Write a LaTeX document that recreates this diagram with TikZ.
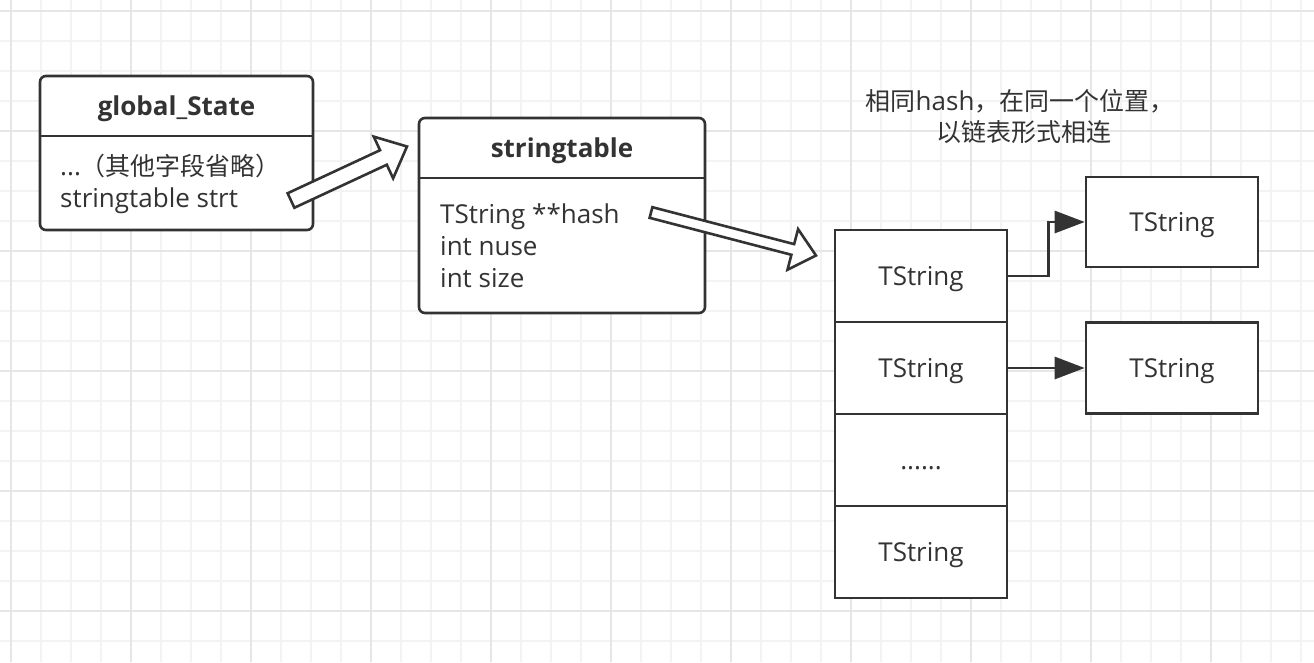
\documentclass[tikz,border=0pt]{standalone}
\usepackage{fontspec}
\setmainfont{Open Sans}
\newfontfamily\cjk[Scale=0.96]{Noto Sans CJK SC}
\usetikzlibrary{arrows.meta,calc}
\definecolor{ink}{HTML}{333333}
\definecolor{gridminor}{HTML}{F3F3F3}
\definecolor{gridmajor}{HTML}{E6E6E6}
\begin{document}
\begin{tikzpicture}[x=1pt,y=-1pt,
  font=\fontsize{26}{31}\selectfont,
  box/.style={draw=ink, line width=2.6pt, fill=white, inner sep=0pt, text=ink,
              text height=19pt, text depth=0pt},
  classbox/.style={draw=ink, line width=2.6pt, fill=white, rounded corners=6pt, inner sep=0pt},
  sep/.style={draw=ink, line width=2.6pt},
  txt/.style={inner sep=0pt, text=ink},
  conn/.style={draw=ink, line width=2.8pt, -{Triangle[length=30pt,width=22pt]}},
  hollow/.style={draw=ink, line width=2.6pt, fill=white, line join=miter}]
\useasboundingbox (0,0) rectangle (1314,662);
\fill[white] (0,0) rectangle (1314,662);
% grid
\foreach \i in {0,...,43} \draw[gridminor, line width=1.5pt] ({11+30*\i},0) -- ({11+30*\i},662);
\foreach \i in {0,...,21} \draw[gridminor, line width=1.5pt] (0,{11+30*\i}) -- (1314,{11+30*\i});
\foreach \i in {0,...,10} \draw[gridmajor, line width=1.5pt] ({11+120*\i},0) -- ({11+120*\i},662);
\foreach \i in {0,...,5} \draw[gridmajor, line width=1.5pt] (0,{11+120*\i}) -- (1314,{11+120*\i});

% global_State
\node[classbox, minimum width=273pt, minimum height=154pt] (gs) at (176.5,153) {};
\draw[sep] (40,136) -- (313,136);
\node[txt, anchor=base, font=\fontsize{26}{31}\selectfont\bfseries] (gst) at (176.5,115) {global\_State};
\node[txt, anchor=base west] (gsb1) at (60,175) {...{\cjk （其他字段省略）}};
\node[txt, anchor=base west] (gsb2) at (60,207) {stringtable strt};

% stringtable
\node[classbox, minimum width=286pt, minimum height=195pt] (st) at (562,215.5) {};
\draw[sep] (419,178) -- (705,178);
\node[txt, anchor=base, font=\fontsize{26}{31}\selectfont\bfseries] (stt) at (562,157) {stringtable};
\node[txt, anchor=base west] (stb1) at (440,223) {TString **hash};
\node[txt, anchor=base west] (stb2) at (440,255) {int nuse};
\node[txt, anchor=base west] (stb3) at (440,287) {int size};

% hash array
\node[box, minimum width=172pt, minimum height=92pt] (r1) at (921,276) {TString};
\node[box, minimum width=172pt, minimum height=92pt] (r2) at (921,368) {TString};
\node[box, minimum width=172pt, minimum height=92pt] (r3) at (921,460) {......};
\node[box, minimum width=172pt, minimum height=92pt] (r4) at (921,552) {TString};

% chained strings
\node[box, minimum width=172pt, minimum height=90pt] (t1) at (1172,222) {TString};
\node[box, minimum width=172pt, minimum height=91pt] (t2) at (1172,368) {TString};

\draw[conn] (r1.east) -- ++(40,0) |- (t1.west);
\draw[conn] (r2.east) -- (t2.west);

% note
\node[txt, anchor=base] (note1) at (1020,110) {{\cjk 相同}hash{\cjk ，在同一个位置，}};
\node[txt, anchor=base] (note2) at (1024,141) {\cjk 以链表形式相连};

% hollow arrows
\coordinate (h1a) at (291,200.5);
\coordinate (h1b) at (407,146.5);
\coordinate (h1c) at ($(h1b)!26pt!(h1a)$);
\draw[hollow] ($(h1a)!8pt!90:(h1b)$) -- ($(h1c)!8pt!90:(h1b)$) -- ($(h1c)!23pt!90:(h1b)$)
  -- (h1b) -- ($(h1c)!23pt!-90:(h1b)$) -- ($(h1c)!8pt!-90:(h1b)$) -- ($(h1a)!8pt!-90:(h1b)$) -- cycle;

\coordinate (h2a) at (651,212.5);
\coordinate (h2b) at (816,255.5);
\coordinate (h2c) at ($(h2b)!24pt!(h2a)$);
\draw[hollow] ($(h2a)!5.5pt!90:(h2b)$) -- ($(h2c)!5.5pt!90:(h2b)$) -- ($(h2c)!21pt!90:(h2b)$)
  -- (h2b) -- ($(h2c)!21pt!-90:(h2b)$) -- ($(h2c)!5.5pt!-90:(h2b)$) -- ($(h2a)!5.5pt!-90:(h2b)$) -- cycle;
\end{tikzpicture}
\end{document}
